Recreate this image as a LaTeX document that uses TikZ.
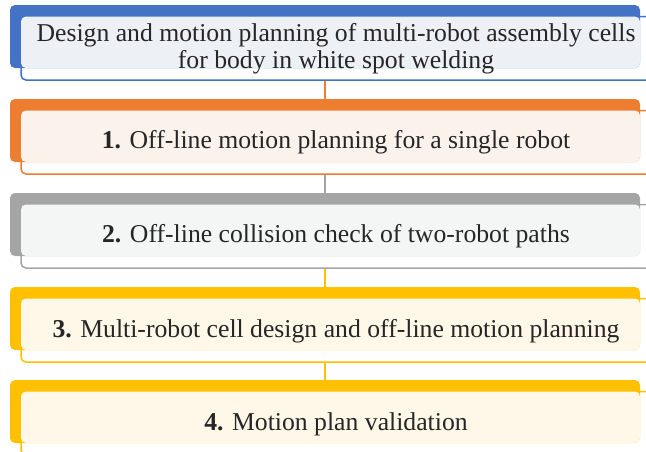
\documentclass[tikz,border=0pt]{standalone}
\usepackage{fontspec}
\setmainfont{Liberation Serif}
\definecolor{cblue}{HTML}{4472C4}
\definecolor{corange}{HTML}{ED7D31}
\definecolor{cgray}{HTML}{A5A5A5}
\definecolor{cgold}{HTML}{FFC000}
\definecolor{lblue}{HTML}{EDF1F6}
\definecolor{lorange}{HTML}{FBF2EC}
\definecolor{lgray}{HTML}{F4F5F5}
\definecolor{lgold}{HTML}{FFF8E8}
\definecolor{txt}{HTML}{262626}
\begin{document}
\begin{tikzpicture}[x=1pt,y=-1pt,
  backbox/.style={rectangle, rounded corners=5pt, inner sep=0pt, minimum width=630pt, minimum height=63pt, fill=#1, draw=none},
  outlinebox/.style={rectangle, rounded corners=5pt, inner sep=0pt, minimum width=659pt, minimum height=63.5pt, fill=white, draw=#1, line width=1.5pt},
  frontbox/.style={rectangle, rounded corners=5pt, inner sep=0pt, minimum width=619pt, minimum height=51.5pt, fill=#1, draw=none},
  itemtext/.style={anchor=base, inner sep=0pt, text=txt, font=\fontsize{25.7}{26.5}\selectfont, align=center},
  conn/.style={draw=#1, line width=2pt}]
\useasboundingbox (0,0) rectangle (646,451);
\begin{scope}
\clip (0,0) rectangle (646,451);
% item 0
\node[outlinebox=cblue] (o0) at (350.5,48.25) {};
\node[backbox=cblue] (b0) at (325,36.5) {};
\node[frontbox=lblue] (f0) at (330.5,42.25) {};
% item 1
\node[outlinebox=corange] (o1) at (350.5,142.25) {};
\node[backbox=corange] (b1) at (325,130.5) {};
\node[frontbox=lorange] (f1) at (330.5,136.25) {};
% item 2
\node[outlinebox=cgray] (o2) at (350.5,236.25) {};
\node[backbox=cgray] (b2) at (325,224.5) {};
\node[frontbox=lgray] (f2) at (330.5,230.25) {};
% item 3
\node[outlinebox=cgold] (o3) at (350.5,330.25) {};
\node[backbox=cgold] (b3) at (325,318.5) {};
\node[frontbox=lgold] (f3) at (330.5,324.25) {};
% item 4
\node[outlinebox=cgold] (o4) at (350.5,423.25) {};
\node[backbox=cgold] (b4) at (325,411.5) {};
\node[frontbox=lgold] (f4) at (330.5,417.25) {};
% connectors
\draw[conn=corange] (b1.north |- o0.south) -- (b1.north);
\draw[conn=cgray] (b2.north |- o1.south) -- (b2.north);
\draw[conn=cgold] (b3.north |- o2.south) -- (b3.north);
\draw[conn=cgold] (b4.north |- o3.south) -- (b4.north);
% texts
\node[itemtext] (t0) at (336,68) {Design and motion planning of multi-robot assembly cells\\for body in white spot welding};
\node[itemtext] (t1) at (336,148) {\textbf{1.} Off-line motion planning for a single robot};
\node[itemtext] (t2) at (336,242) {\textbf{2.} Off-line collision check of two-robot paths};
\node[itemtext] (t3) at (336,337) {\textbf{3.} Multi-robot cell design and off-line motion planning};
\node[itemtext] (t4) at (336,430) {\textbf{4.} Motion plan validation};
\end{scope}
\end{tikzpicture}
\end{document}
